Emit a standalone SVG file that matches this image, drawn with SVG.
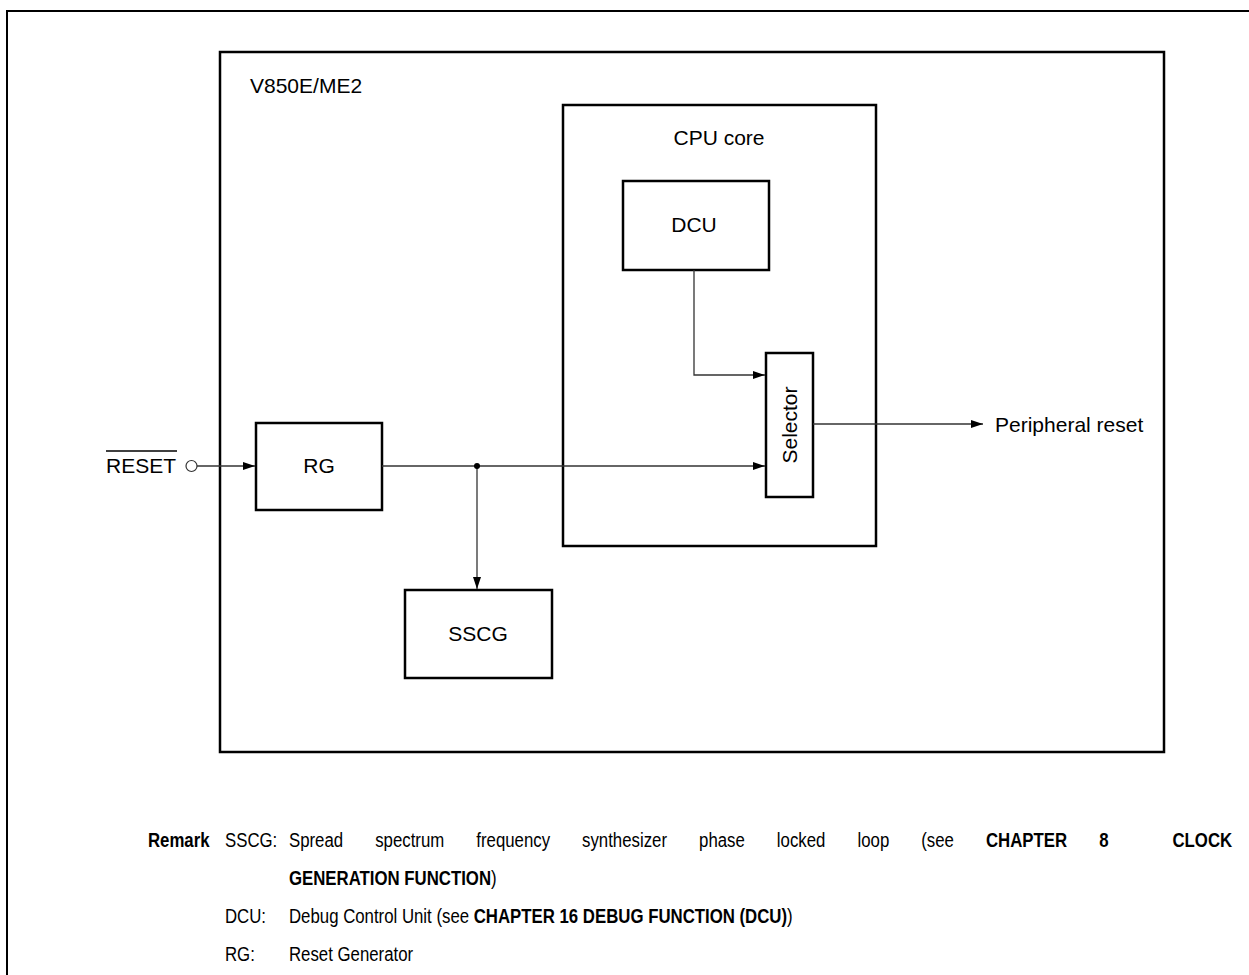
<svg xmlns="http://www.w3.org/2000/svg" width="1249" height="975" viewBox="0 0 1249 975">
<style>
.box{fill:none;stroke:#000;stroke-width:2.5}
.frame{fill:none;stroke:#000;stroke-width:2}
.wire{fill:none;stroke:#333;stroke-width:1.3}
.lbl{font-family:"Liberation Sans",Arial,Helvetica,sans-serif;font-size:21px;fill:#000}
.mid{text-anchor:middle}
.rm{font-family:"Liberation Sans",Arial,Helvetica,sans-serif;font-size:21px;fill:#000}
.b{font-weight:bold}
</style>
<defs>
<marker id="ah" viewBox="0 0 12 8" refX="12" refY="4" markerWidth="12" markerHeight="8" markerUnits="userSpaceOnUse" orient="auto">
<path d="M0,0 L12,4 L0,8 Z" fill="#000"/>
</marker>
</defs>
<rect width="1249" height="975" fill="#fff"/>
<path class="frame" d="M7,975 L7,11 L1249,11"/>
<g id="chip">
<rect class="box" x="220" y="52" width="944" height="700"/>
<text class="lbl" x="250" y="93">V850E/ME2</text>
</g>
<g id="cpu">
<rect class="box" x="563" y="105" width="313" height="441"/>
<text class="lbl mid" x="719" y="145">CPU core</text>
</g>
<g id="dcu">
<rect class="box" x="623" y="181" width="146" height="89"/>
<text class="lbl mid" x="694" y="232">DCU</text>
</g>
<g id="selector">
<rect class="box" x="766" y="353" width="47" height="144"/>
<text class="lbl mid" transform="translate(797,425) rotate(-90)">Selector</text>
</g>
<g id="rg">
<rect class="box" x="256" y="423" width="126" height="87"/>
<text class="lbl mid" x="319" y="473">RG</text>
</g>
<g id="sscg">
<rect class="box" x="405" y="590" width="147" height="88"/>
<text class="lbl mid" x="478" y="641">SSCG</text>
</g>
<g id="reset">
<text class="lbl" x="106" y="473">RESET</text>
<line x1="106" y1="451" x2="177" y2="451" stroke="#000" stroke-width="1.3"/>
<circle cx="191.5" cy="466" r="5.5" fill="#fff" stroke="#333" stroke-width="1.2"/>
</g>
<g id="periph">
<text class="lbl" x="995" y="432">Peripheral reset</text>
</g>
<g id="connectors">
<line class="wire" x1="197" y1="466" x2="255" y2="466" marker-end="url(#ah)"/>
<line class="wire" x1="382" y1="466" x2="765" y2="466" marker-end="url(#ah)"/>
<line class="wire" x1="477" y1="466" x2="477" y2="589" marker-end="url(#ah)"/>
<circle cx="477" cy="466" r="3" fill="#000"/>
<polyline class="wire" points="694,270 694,375 765,375" marker-end="url(#ah)"/>
<line class="wire" x1="813" y1="424" x2="983" y2="424" stroke="#000" marker-end="url(#ah)"/>
</g>
<g id="remark" transform="scale(0.8,1)">
<text class="rm b" x="185" y="847">Remark</text>
<text class="rm" y="847"><tspan x="281.25">SSCG:</tspan><tspan x="361.25">Spread</tspan><tspan x="469">spectrum</tspan><tspan x="595.4">frequency</tspan><tspan x="727.6">synthesizer</tspan><tspan x="873.9">phase</tspan><tspan x="971.1">locked</tspan><tspan x="1071.9">loop</tspan><tspan x="1151.6">(see</tspan><tspan class="b" x="1232.5">CHAPTER</tspan><tspan class="b" x="1374">8</tspan><tspan class="b" x="1465.6">CLOCK</tspan></text>
<text class="rm" x="361.25" y="885"><tspan class="b">GENERATION FUNCTION</tspan>)</text>
<text class="rm" x="281.25" y="923">DCU:</text>
<text class="rm" x="361.25" y="923">Debug Control Unit (see <tspan class="b">CHAPTER 16  DEBUG FUNCTION (DCU)</tspan>)</text>
<text class="rm" x="281.25" y="961">RG:</text>
<text class="rm" x="361.25" y="961">Reset Generator</text>
</g>
</svg>
